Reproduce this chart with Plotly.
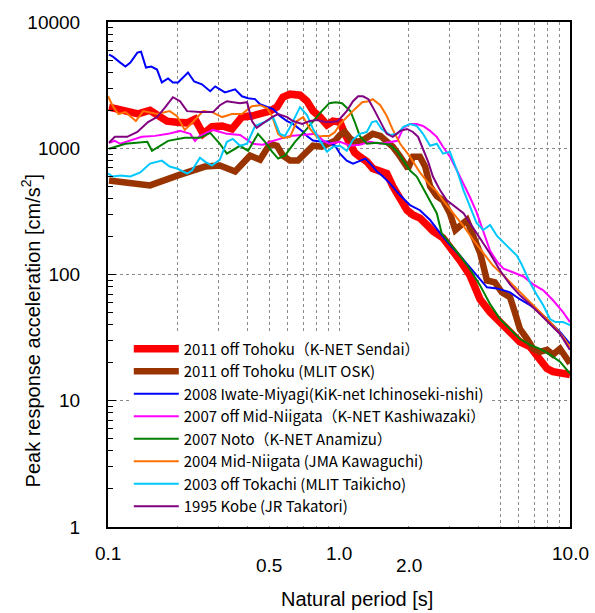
import math
import plotly.graph_objects as go

# Response spectra: natural period [s] vs peak response acceleration [cm/s^2]
sendai_T = [0.101, 0.111, 0.122, 0.135, 0.152, 0.165, 0.180, 0.199, 0.220, 0.238,
            0.250, 0.258, 0.282, 0.312, 0.344, 0.380, 0.420, 0.455, 0.503, 0.539,
            0.572, 0.614, 0.678, 0.727, 0.772, 0.828, 0.887, 0.942, 1.01, 1.06,
            1.12, 1.17, 1.23, 1.32, 1.40, 1.51, 1.61, 1.71, 1.84, 1.97,
            2.09, 2.24, 2.40, 2.55, 2.82, 3.12, 3.34, 3.69, 4.08, 4.51,
            4.98, 5.50, 6.07, 6.71, 7.41, 7.95, 8.44, 9.33, 10.0]
sendai_A = [2120, 2040, 1930, 1870, 2000, 1800, 1640, 1610, 1590, 1700,
            1480, 1300, 1480, 1500, 1420, 1770, 1800, 1870, 1970, 2120,
            2540, 2680, 2630, 2360, 1970, 1770, 1530, 1640, 1610, 1300,
            1090, 922, 858, 784, 691, 666, 631, 499, 387, 323,
            296, 280, 247, 221, 195, 157, 129, 98.2, 63.7, 50.3,
            42.0, 33.8, 29.3, 26.8, 21.5, 18.0, 17.0, 16.4, 16.1]

osk_T = [0.101, 0.152, 0.201, 0.263, 0.305, 0.355, 0.412, 0.455, 0.503, 0.539,
         0.572, 0.614, 0.664, 0.727, 0.772, 0.842, 0.896, 0.961, 1.01, 1.06,
         1.12, 1.19, 1.26, 1.34, 1.40, 1.51, 1.61, 1.71, 1.84, 1.91,
         1.99, 2.09, 2.24, 2.36, 2.48, 2.65, 2.82, 3.02, 3.19, 3.34,
         3.58, 3.81, 4.08, 4.37, 4.73, 5.07, 5.50, 5.77, 6.07, 6.52,
         6.93, 7.41, 7.95, 8.44, 9.05, 9.69, 10.0]
osk_A = [556, 508, 609, 716, 729, 654, 873, 812, 1085, 1046,
         873, 798, 798, 955, 1046, 1027, 1085, 1145, 1276, 1346,
         1187, 1125, 1145, 1231, 1300, 1253, 1145, 1027, 858, 756,
         691, 858, 858, 716, 499, 417, 387, 306, 225, 242,
         270, 202, 149, 89.7, 86.5, 72.2, 66.0, 50.3, 37.0, 30.9,
         25.8, 24.4, 25.3, 23.2, 25.8, 21.5, 19.7]

iwate_T = [0.101, 0.105, 0.113, 0.119, 0.125, 0.134, 0.139, 0.146, 0.154, 0.163,
           0.171, 0.182, 0.191, 0.201, 0.222, 0.236, 0.255, 0.277, 0.291, 0.321,
           0.355, 0.380, 0.404, 0.433, 0.455, 0.488, 0.518, 0.555, 0.596, 0.632,
           0.692, 0.727, 0.772, 0.828, 0.887, 0.961, 1.01, 1.08, 1.15, 1.21,
           1.30, 1.39, 1.46, 1.55, 1.66, 1.84, 2.03, 2.24, 2.48, 2.74,
           3.02, 3.34, 3.69, 4.08, 4.37, 4.83, 5.50, 6.07, 6.71, 7.41,
           8.19, 9.05, 10.0]
iwate_A = [5510, 5320, 4770, 4440, 4770, 5720, 5820, 4360, 4440, 4200,
           3320, 3570, 3320, 3320, 3980, 3380, 3210, 2830, 3090, 2770,
           2930, 2580, 2490, 2450, 2230, 2120, 2040, 1800, 1640, 1560,
           1370, 1250, 1150, 1130, 1130, 1050, 906, 798, 755, 784,
           827, 729, 654, 597, 527, 424, 354, 323, 270, 213,
           172, 141, 114, 91.4, 79.1, 77.6, 72.2, 63.7, 57.1, 50.3,
           42.0, 35.1, 28.2]

kashiwazaki_T = [0.101, 0.107, 0.113, 0.125, 0.140, 0.160, 0.182, 0.205, 0.227, 0.238,
                 0.250, 0.285, 0.327, 0.373, 0.424, 0.469, 0.518, 0.614, 0.749, 0.796,
                 0.856, 0.908, 1.01, 1.12, 1.23, 1.36, 1.51, 1.66, 1.79, 1.90,
                 2.03, 2.17, 2.31, 2.48, 2.65, 2.82, 3.02, 3.24, 3.46, 3.69,
                 3.94, 4.21, 4.51, 4.83, 5.15, 5.69, 6.29, 6.93, 7.66, 8.44,
                 9.33, 10.0]
kashiwazaki_A = [1105, 1145, 1085, 1145, 1231, 1253, 1300, 1372, 1300, 1145,
                 1253, 1397, 1300, 1276, 1085, 1065, 1145, 1253, 1276, 1300,
                 1145, 1085, 1125, 1046, 1065, 1125, 1085, 1125, 1145, 1449,
                 1556, 1556, 1501, 1372, 1231, 1027, 858, 666, 527, 409,
                 312, 221, 154, 126.5, 111.4, 103.7, 96.5, 83.5, 74.9, 62.5,
                 50.3, 42.0]

anamizu_T = [0.101, 0.119, 0.148, 0.155, 0.182, 0.215, 0.250, 0.277, 0.305, 0.327,
             0.373, 0.404, 0.446, 0.478, 0.513, 0.545, 0.583, 0.645, 0.713, 0.772,
             0.842, 0.908, 0.967, 1.03, 1.12, 1.17, 1.23, 1.32, 1.46, 1.66,
             1.79, 1.90, 2.03, 2.17, 2.31, 2.48, 2.65, 2.78, 3.02, 3.34,
             3.69, 4.08, 4.51, 4.98, 5.50, 6.07, 6.71, 7.41, 8.19, 9.05,
             10.0]
anamizu_A = [991, 1085, 1125, 955, 1145, 1209, 1209, 1323, 1085, 906,
             1046, 955, 1300, 1125, 939, 827, 873, 1125, 1372, 1643,
             1968, 2275, 2317, 2275, 1968, 1614, 1253, 1085, 1105, 1065,
             939, 798, 666, 597, 481, 387, 306, 213, 178, 141,
             110, 82.0, 58.2, 44.4, 37.0, 30.9, 27.7, 25.8, 23.2, 20.4,
             16.4]

kawaguchi_T = [0.100, 0.105, 0.111, 0.119, 0.132, 0.142, 0.163, 0.185, 0.199, 0.215,
               0.233, 0.258, 0.282, 0.312, 0.344, 0.380, 0.420, 0.455, 0.488, 0.513,
               0.545, 0.572, 0.614, 0.657, 0.700, 0.749, 0.803, 0.856, 0.908, 0.961,
               1.01, 1.08, 1.17, 1.26, 1.34, 1.40, 1.51, 1.61, 1.71, 1.84,
               2.03, 2.24, 2.48, 2.65, 2.82, 3.12, 3.46, 3.81, 4.21, 4.64,
               5.15, 5.69, 6.29, 6.93, 7.66, 8.44, 9.33, 10.0]
kawaguchi_A = [2581, 2154, 1865, 1933, 1643, 1968, 1865, 1968, 1798, 1397,
               1614, 1968, 1933, 1766, 1865, 1865, 2154, 2193, 2077, 1798,
               1300, 1209, 1231, 1643, 1766, 1422, 1231, 1253, 1253, 1346,
               1556, 1766, 2040, 2317, 2358, 2445, 2193, 1798, 1397, 1085,
               858, 643, 508, 456, 387, 306, 242, 188, 149, 117.7,
               98.2, 82.0, 68.4, 57.1, 47.7, 39.8, 32.1, 26.8]

taikicho_T = [0.100, 0.105, 0.113, 0.125, 0.138, 0.152, 0.171, 0.185, 0.199, 0.220,
              0.231, 0.250, 0.263, 0.282, 0.305, 0.327, 0.347, 0.373, 0.400, 0.433,
              0.488, 0.518, 0.555, 0.583, 0.614, 0.645, 0.678, 0.727, 0.772, 0.828,
              0.887, 0.942, 1.01, 1.08, 1.15, 1.23, 1.32, 1.39, 1.45, 1.53,
              1.66, 1.79, 1.90, 2.03, 2.17, 2.31, 2.48, 2.65, 2.82, 3.02,
              3.24, 3.46, 3.69, 3.94, 4.21, 4.51, 4.83, 5.33, 5.89, 6.18,
              6.71, 7.20, 7.66, 8.19, 8.64, 9.33, 10.0]
taikicho_A = [631, 597, 609, 597, 643, 756, 798, 716, 691, 631,
              666, 842, 784, 729, 812, 1125, 1187, 1046, 1085, 1501,
              1643, 1766, 1300, 1253, 1475, 1766, 2116, 1832, 1422, 1145,
              939, 1027, 1046, 955, 1166, 1300, 1346, 1614, 1643, 1422,
              1276, 1300, 1475, 1556, 1501, 1300, 1046, 1085, 906, 939,
              666, 464, 348, 256, 225, 247, 202, 169, 141, 120,
              86.5, 68.4, 57.1, 44.4, 42.0, 42.0, 39.8]

takatori_T = [0.101, 0.107, 0.121, 0.134, 0.149, 0.163, 0.177, 0.191, 0.205, 0.220,
              0.250, 0.285, 0.305, 0.327, 0.373, 0.400, 0.420, 0.440, 0.478, 0.513,
              0.545, 0.596, 0.632, 0.692, 0.749, 0.803, 0.871, 0.933, 0.988, 1.08,
              1.15, 1.21, 1.27, 1.34, 1.40, 1.51, 1.61, 1.71, 1.84, 1.97,
              2.09, 2.20, 2.31, 2.43, 2.55, 2.74, 2.93, 3.24, 3.46, 3.69,
              3.94, 4.21, 4.51, 4.98, 5.50, 6.07, 6.71, 7.41, 8.19, 9.05,
              10.0]
takatori_A = [1105, 1231, 1231, 1346, 1614, 1766, 2116, 2535, 2358, 1968,
              1933, 1933, 2193, 2358, 2275, 2317, 1643, 1449, 1614, 1766,
              1865, 1766, 1643, 1556, 1643, 1673, 1614, 1614, 1643, 1968,
              2358, 2581, 2581, 2445, 2116, 1643, 1300, 1231, 1372, 1422,
              1346, 1231, 991, 784, 597, 464, 387, 335, 306, 256,
              213, 178, 146, 107.5, 83.5, 68.4, 58.2, 48.6, 40.5, 33.8,
              25.3]

series = [
    ("2011 off Tohoku（K-NET Sendai）", sendai_T, sendai_A, "#FF0000", 7.5),
    ("2011 off Tohoku (MLIT OSK)", osk_T, osk_A, "#993300", 6.5),
    ("2008 Iwate-Miyagi(KiK-net Ichinoseki-nishi)", iwate_T, iwate_A, "#0000FF", 2),
    ("2007 off Mid-Niigata（K-NET Kashiwazaki）", kashiwazaki_T, kashiwazaki_A, "#FF00FF", 2),
    ("2007 Noto（K-NET Anamizu）", anamizu_T, anamizu_A, "#008000", 2),
    ("2004 Mid-Niigata (JMA Kawaguchi)", kawaguchi_T, kawaguchi_A, "#FF7000", 2),
    ("2003 off Tokachi (MLIT Taikicho)", taikicho_T, taikicho_A, "#00C8FF", 2),
    ("1995 Kobe (JR Takatori)", takatori_T, takatori_A, "#800080", 2),
]

x_grid = [m * 10 ** e for e in (-1, 0) for m in range(1, 10)] + [10]
x_labels = [(0.1, "0.1", 0), (0.5, "0.5", 1), (1.0, "1.0", 0), (2.0, "2.0", 1), (10.0, "10.0", 0)]
y_ticks = [1, 10, 100, 1000, 10000]

fig = go.Figure()
for name, T, A, color, width in series:
    fig.add_trace(go.Scatter(x=T, y=A, mode="lines", name=name,
                             line=dict(color=color, width=width)))

sans = "Liberation Sans, Arial, sans-serif"
tick_font = dict(family=sans, size=19, color="black")

fig.update_xaxes(type="log", range=[-1, 1], tickvals=x_grid, showticklabels=False,
                 showgrid=True, gridcolor="#8a8a8a", griddash="dot", gridwidth=1,
                 ticks="", showline=True, linecolor="black", linewidth=2, mirror=True,
                 zeroline=False)
fig.update_yaxes(type="log", range=[0, 4], tickvals=y_ticks, ticktext=[str(v) for v in y_ticks],
                 tickfont=tick_font, ticks="inside", ticklen=8, tickcolor="black",
                 ticklabelstandoff=22,
                 minor=dict(ticks="inside", ticklen=5, tickcolor="black", dtick="D1", showgrid=False),
                 showgrid=True, gridcolor="#8a8a8a", griddash="dot", gridwidth=1,
                 showline=True, linecolor="black", linewidth=2, mirror=True, zeroline=False)

# Staggered period labels under the axis
for val, txt, row in x_labels:
    fig.add_annotation(x=math.log10(val), y=0, xref="x", yref="paper",
                       text=txt, showarrow=False, font=tick_font,
                       yanchor="top", xanchor="center", yshift=-14 - 12 * row)

fig.add_annotation(x=0.54, y=-0.143, xref="paper", yref="paper",
                   text="Natural period [s]", showarrow=False,
                   font=dict(family=sans, size=20, color="black"),
                   xanchor="center", yanchor="middle")
fig.add_annotation(x=-0.168, y=0.39, xref="paper", yref="paper",
                   text="Peak response acceleration [cm/s<sup>2</sup>]", showarrow=False,
                   textangle=-90,
                   font=dict(family=sans, size=20, color="black"),
                   xanchor="center", yanchor="middle")

fig.update_layout(
    width=595, height=613,
    margin=dict(l=108, r=25, t=17, b=86),
    paper_bgcolor="white", plot_bgcolor="white",
    showlegend=True,
    legend=dict(x=0.045, y=0.385, xanchor="left", yanchor="top",
                bgcolor="white", borderwidth=0, itemwidth=45,
                font=dict(family="Noto Sans CJK JP, sans-serif", size=15, color="black"),
                tracegroupgap=0),
)

fig.write_html("out.html")
